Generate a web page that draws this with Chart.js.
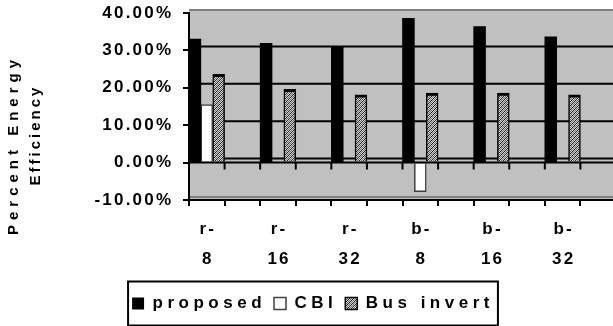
<!DOCTYPE html>
<html>
<head>
<meta charset="utf-8">
<script src="https://cdn.jsdelivr.net/npm/chart.js@4.4.1/dist/chart.umd.min.js"></script>
<style>
  html, body { margin: 0; padding: 0; background: #fff; overflow: hidden; width: 613px; height: 326px; }
  #wrap { width: 630px; height: 326px; }
</style>
</head>
<body>
<div id="wrap"><canvas id="c" width="630" height="326"></canvas></div>
<script>
// Benchmark categories (every other slot is an empty spacer category)
const categories = [['r-', '8'], '', ['r-', '16'], '', ['r-', '32'], '', ['b-', '8'], '', ['b-', '16'], '', ['b-', '32'], ''];
// Percent energy efficiency per scheme
const proposed  = [33.0, null, 31.9, null, 30.8, null, 38.6, null, 36.4, null, 33.6, null];
const cbi       = [15.5, null, 0,    null, 0,    null, -7.8, null, 0,    null, 0,    null];
const busInvert = [23.6, null, 19.6, null, 18.1, null, 18.6, null, 18.6, null, 18.1, null];
const seriesNames = ['proposed', 'CBI', 'Bus invert'];
const yTicks = [-10, 0, 10, 20, 30, 40];
const yTitle = ['Percent Energy', 'Efficiency'];

// Prefer a condensed face when one is installed
function hasFont(name) {
  const g = document.createElement('canvas').getContext('2d');
  g.font = 'bold 40px monospace';
  const w1 = g.measureText('proposed Efficiency 40.00%').width;
  g.font = 'bold 40px "' + name + '", monospace';
  return g.measureText('proposed Efficiency 40.00%').width !== w1;
}
const NARROW = hasFont('Liberation Sans Narrow');
const FAMILY = NARROW ? '"Liberation Sans Narrow", "Liberation Sans", Arial, sans-serif' : '"Liberation Sans", Arial, sans-serif';
const LS = NARROW
  ? { tick: 3.5, legend: 6, title1: 6.5, title2: 4 }
  : { tick: 2.2, legend: 4.5, title1: 5, title2: 3 };

const font = { family: FAMILY, size: 17, weight: 'bold' };
const fontString = Chart.helpers.toFont(font).string;

const canvas = document.getElementById('c');
const ctx = canvas.getContext('2d');

// Tracking (letter spacing) for chart text, re-applied right before each text call
let tracking = LS.tick;
function applyTracking(c) {
  c.letterSpacing = '0px';
  c.letterSpacing = tracking + 'px';
}
const rawFillText = ctx.fillText;
ctx.fillText = function (text, x, y, maxWidth) {
  applyTracking(this);
  return maxWidth === undefined ? rawFillText.call(this, text, x, y) : rawFillText.call(this, text, x, y, maxWidth);
};
const rawMeasureText = ctx.measureText;
ctx.measureText = function (text) {
  applyTracking(this);
  return rawMeasureText.call(this, text);
};
function withTracking(fn, value) {
  return function (...args) {
    const old = tracking;
    tracking = value;
    const r = fn.apply(this, args);
    tracking = old;
    return r;
  };
}

// Diagonal hatch fill for the Bus invert series
function makeHatch() {
  const p = document.createElement('canvas');
  p.width = 4; p.height = 4;
  const g = p.getContext('2d');
  g.fillStyle = '#d0d0d0';
  g.fillRect(0, 0, 4, 4);
  for (let i = 0; i < 4; i++) {
    g.fillStyle = '#202020';
    g.fillRect(3 - i, i, 1, 1);
    g.fillStyle = '#707070';
    g.fillRect((5 - i) % 4, i, 1, 1);
  }
  return ctx.createPattern(p, 'repeat');
}
const hatch = makeHatch();

const decorPlugin = {
  id: 'decor',
  afterInit(chart) {
    const lg = chart.legend;
    if (!lg) return;
    lg.fit = withTracking(lg.fit, LS.legend);
    const draw = withTracking(lg.draw, LS.legend);
    lg.draw = function () {
      draw.call(this);
      // frame around the legend entries
      const hb = this.legendHitBoxes;
      if (!hb || !hb.length) return;
      const c = this.ctx;
      const left = Math.min(...hb.map(h => h.left)) - 4;
      const right = Math.max(...hb.map(h => h.left + h.width)) + 4;
      const cy = hb[0].top + hb[0].height / 2;
      c.save();
      c.strokeStyle = '#000';
      c.lineWidth = 2;
      c.strokeRect(left, cy - 22, right - left, 44);
      c.restore();
    };
  },
  beforeDraw(chart) {
    const c = chart.ctx, a = chart.chartArea, ys = chart.scales.y;
    c.save();
    // back wall
    c.fillStyle = '#c0c0c0';
    c.fillRect(a.left, a.top - 3, a.right - a.left, a.bottom - a.top + 3);
    c.strokeStyle = '#808080';
    c.lineWidth = 2;
    c.beginPath();
    c.moveTo(a.left, a.top - 3); c.lineTo(a.right, a.top - 3);
    c.moveTo(a.left, a.bottom - 3); c.lineTo(a.right, a.bottom - 3);
    c.stroke();
    // wall gridlines, set back from the front axis
    c.strokeStyle = '#000';
    c.lineWidth = 2;
    c.beginPath();
    yTicks.slice(1, -1).forEach(v => {
      const py = ys.getPixelForValue(v) - 4;
      c.moveTo(a.left, py); c.lineTo(a.right, py);
    });
    c.stroke();
    c.restore();
  },
  afterDatasetsDraw(chart) {
    const c = chart.ctx, a = chart.chartArea, xs = chart.scales.x, ys = chart.scales.y;
    const y0 = ys.getPixelForValue(0);
    const half = (xs.getPixelForValue(1) - xs.getPixelForValue(0)) / 2;
    c.save();
    c.strokeStyle = '#000';
    c.lineWidth = 2;
    c.beginPath();
    c.moveTo(a.left, y0); c.lineTo(a.right, y0);
    for (let i = 0; i <= categories.length; i++) {
      const px = xs.getPixelForValue(i) - half;
      c.moveTo(px, y0); c.lineTo(px, y0 + 7);
    }
    c.stroke();
    c.restore();
  },
  afterDraw(chart) {
    const c = chart.ctx, xs = chart.scales.x, ys = chart.scales.y;
    const old = tracking;
    c.save();
    c.fillStyle = '#000';
    c.font = fontString;
    tracking = LS.tick;
    // value axis labels, from the scale's own ticks
    c.textAlign = 'right';
    c.textBaseline = 'middle';
    ys.ticks.forEach(t => {
      c.fillText(t.label, ys.right - 18 + LS.tick, ys.getPixelForValue(t.value));
    });
    // category labels (two lines each)
    c.textAlign = 'center';
    c.textBaseline = 'alphabetic';
    xs.ticks.forEach((t, i) => {
      const lines = [].concat(t.label);
      const px = xs.getPixelForValue(i) + LS.tick / 2;
      lines.forEach((ln, k) => { if (ln) c.fillText(ln, px, xs.top + 34 + k * 30); });
    });
    c.restore();

    // two-line rotated axis title
    c.save();
    c.fillStyle = '#000';
    c.font = 'bold 15px ' + FAMILY;
    c.textAlign = 'center';
    c.textBaseline = 'middle';
    c.rotate(-Math.PI / 2);
    tracking = LS.title1;
    c.fillText(yTitle[0], -145, 14);
    tracking = LS.title2;
    c.fillText(yTitle[1], -135, 36);
    c.restore();
    tracking = old;
  }
};

new Chart(ctx, {
  type: 'bar',
  data: {
    labels: categories,
    datasets: [
      { label: seriesNames[0], data: proposed, backgroundColor: '#000', borderColor: '#000', borderWidth: 0 },
      { label: seriesNames[1], data: cbi, backgroundColor: '#fff', borderColor: '#404040', borderWidth: 1.5 },
      { label: seriesNames[2], data: busInvert, backgroundColor: hatch, borderColor: '#000',
        borderWidth: { top: 3, left: 1.5, right: 1.5, bottom: 0 } }
    ]
  },
  options: {
    responsive: false,
    animation: false,
    devicePixelRatio: 1,
    layout: { padding: { left: 10, right: 14, top: 13, bottom: 4 } },
    datasets: { bar: { categoryPercentage: 1, barPercentage: 1 } },
    plugins: {
      tooltip: { enabled: false },
      legend: {
        position: 'bottom',
        labels: { boxWidth: 12, boxHeight: 12, padding: 8, color: '#000', font: font }
      }
    },
    scales: {
      x: {
        grid: { display: true, drawOnChartArea: false, drawTicks: true, tickLength: 6, color: '#000', lineWidth: 2, offset: true },
        border: { display: true, color: '#000', width: 2 },
        ticks: { display: false, autoSkip: false, maxRotation: 0, minRotation: 0 },
        afterFit(scale) { scale.height = 87; }
      },
      y: {
        min: yTicks[0],
        max: yTicks[yTicks.length - 1],
        grid: { display: true, drawOnChartArea: false, drawTicks: true, tickLength: 6, color: '#000', lineWidth: 2 },
        border: { display: true, color: '#000', width: 2 },
        ticks: { display: false, stepSize: 10, callback: v => v.toFixed(2) + '%' },
        afterFit(scale) { scale.width = 179; }
      }
    }
  },
  plugins: [decorPlugin]
});
</script>
</body>
</html>
